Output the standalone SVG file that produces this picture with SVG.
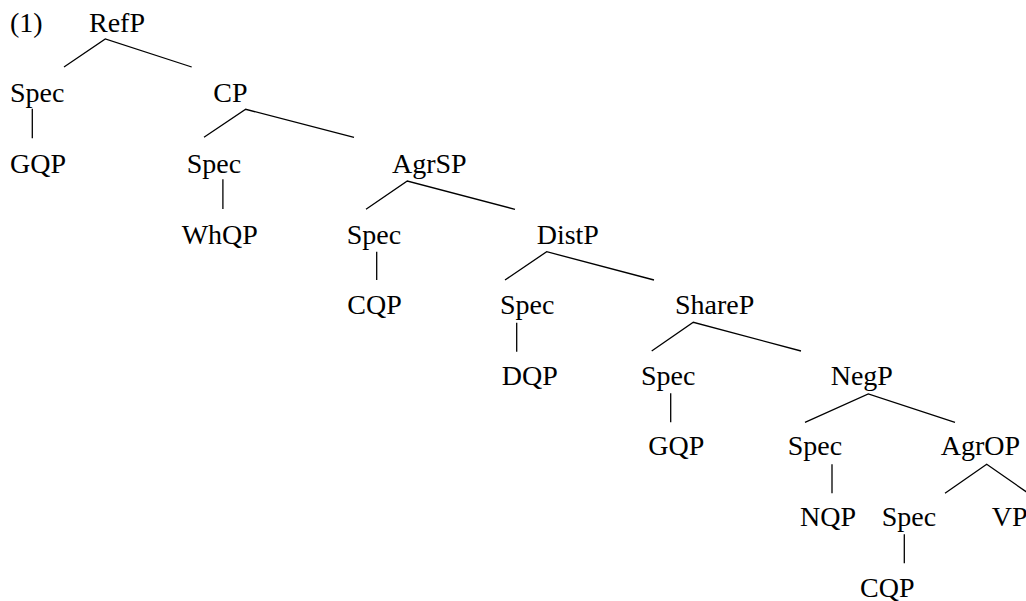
<svg xmlns="http://www.w3.org/2000/svg" width="1026" height="601" viewBox="0 0 1026 601">
<style>
text{font-family:'Liberation Serif','Times New Roman','DejaVu Serif',serif;font-size:28px;fill:#000}
.e{stroke:#000;stroke-width:1.3;fill:none}
</style>
<rect width="1026" height="601" fill="#fff"/>
<g id="connectors">
<polyline class="e" points="64,67 105.3,39 191.7,67"/>
<line class="e" x1="32.3" y1="108.7" x2="32.3" y2="138.3"/>
<polyline class="e" points="204,137.3 245.7,109.3 354,137.3"/>
<line class="e" x1="222.9" y1="179.3" x2="222.9" y2="209"/>
<polyline class="e" points="366,209.3 407.3,181 515,209.3"/>
<line class="e" x1="376.7" y1="251.7" x2="376.7" y2="280"/>
<polyline class="e" points="505,280 546.7,251.7 654,280"/>
<line class="e" x1="516.7" y1="322.7" x2="516.7" y2="351.7"/>
<polyline class="e" points="651.7,351 693.3,322.3 801,351"/>
<line class="e" x1="670.7" y1="393.3" x2="670.7" y2="422.3"/>
<polyline class="e" points="805,422.3 868.3,394 955,422.3"/>
<line class="e" x1="832" y1="464.3" x2="832" y2="493.3"/>
<polyline class="e" points="945,493.3 986.7,464.3 1028.4,493.3"/>
<line class="e" x1="904.3" y1="534.3" x2="904.3" y2="563.3"/>
</g>
<g id="label1"><text x="10" y="31.7" font-family="Liberation Serif, serif">(1)</text></g>
<g id="RefP"><text x="89" y="31.7">RefP</text></g>
<g id="Spec1"><text x="10" y="102.3">Spec</text></g>
<g id="CP"><text x="213.3" y="102.3">CP</text></g>
<g id="GQP1"><text x="10" y="172.9">GQP</text></g>
<g id="Spec2"><text x="186.7" y="172.9">Spec</text></g>
<g id="AgrSP"><text x="392" y="172.9">AgrSP</text></g>
<g id="WhQP"><text x="181.7" y="243.5">WhQP</text></g>
<g id="Spec3"><text x="346.7" y="243.5">Spec</text></g>
<g id="DistP"><text x="536.7" y="243.5">DistP</text></g>
<g id="CQP1"><text x="347.3" y="314.1">CQP</text></g>
<g id="Spec4"><text x="500" y="314.1">Spec</text></g>
<g id="ShareP"><text x="675" y="314.1">ShareP</text></g>
<g id="DQP"><text x="501.7" y="384.7">DQP</text></g>
<g id="Spec5"><text x="641" y="384.7">Spec</text></g>
<g id="NegP"><text x="830.7" y="384.7">NegP</text></g>
<g id="GQP2"><text x="648.3" y="455.3">GQP</text></g>
<g id="Spec6"><text x="787.7" y="455.3">Spec</text></g>
<g id="AgrOP"><text x="940.7" y="455.3">AgrOP</text></g>
<g id="NQP"><text x="800" y="525.9">NQP</text></g>
<g id="Spec7"><text x="881.7" y="525.9">Spec</text></g>
<g id="VP"><text x="991.7" y="525.9">VP</text></g>
<g id="CQP2"><text x="860" y="596.5">CQP</text></g>
</svg>
